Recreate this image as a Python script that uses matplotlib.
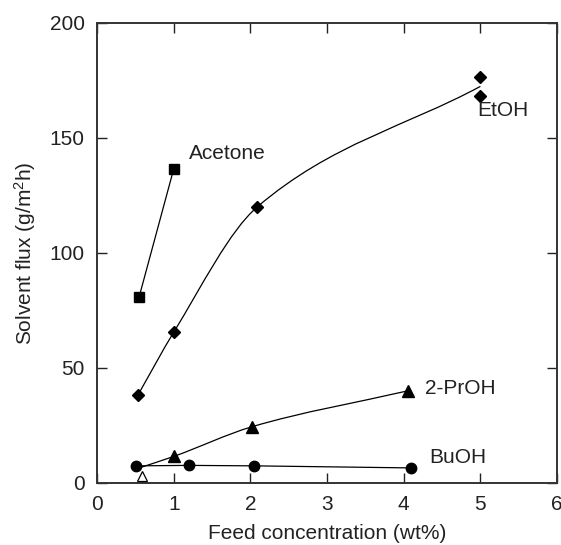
import numpy as np
import matplotlib
matplotlib.use('Agg')
import matplotlib.pyplot as plt
from matplotlib.path import Path
from matplotlib.patches import PathPatch

# values
acetone_x = [0.55, 1.0]
acetone_y = [81, 136.5]

etoh_x = [0.53, 1.0, 2.09, 5.0, 5.0]
etoh_y = [38, 65.5, 120, 176.5, 168.3]

prop_x = [0.55, 1.0, 2.02, 4.05]
prop_y = [6.5, 11.5, 24.4, 40]

buoh_x = [0.51, 1.2, 2.05, 4.1]
buoh_y = [7.4, 7.6, 7.4, 6.5]

open_x = [0.58]
open_y = [3]

labels = ['Acetone', 'EtOH', '2-PrOH', 'BuOH']
label_x = [1.2, 4.96, 4.28, 4.33]
label_y = [143, 162, 41, 11]

plt.rcParams['font.family'] = ['Liberation Sans', 'DejaVu Sans']
plt.rcParams['mathtext.default'] = 'regular'


def smoothPath(xs, ys):
    # monotone bezier through points (pchip style tangents)
    xs = np.asarray(xs, float)
    ys = np.asarray(ys, float)
    h = np.diff(xs)
    sec = np.diff(ys) / h
    m = np.empty(len(xs))
    m[0] = sec[0]
    m[-1] = sec[-1]
    for i in range(1, len(xs) - 1):
        w1 = 2 * h[i] + h[i - 1]
        w2 = h[i] + 2 * h[i - 1]
        m[i] = (w1 + w2) / (w1 / sec[i - 1] + w2 / sec[i])
    verts = [(xs[0], ys[0])]
    codes = [Path.MOVETO]
    for i in range(len(xs) - 1):
        d = h[i] / 3
        verts += [(xs[i] + d, ys[i] + m[i] * d),
                  (xs[i + 1] - d, ys[i + 1] - m[i + 1] * d),
                  (xs[i + 1], ys[i + 1])]
        codes += [Path.CURVE4] * 3
    return Path(verts, codes)


fig = plt.figure(figsize=(5.61, 5.45), dpi=100)
ax = fig.add_axes([0.173, 0.114, 0.82, 0.844])

lw = 0.9
# acetone
ax.plot(acetone_x, acetone_y, color='black', lw=lw, marker='s', ms=6.5, zorder=3)

# ethanol: curve ends at mean of the duplicate points at 5 wt%
etoh_line_x = etoh_x[:3] + [etoh_x[3]]
etoh_line_y = etoh_y[:3] + [(etoh_y[3] + etoh_y[4]) / 2]
ax.add_patch(PathPatch(smoothPath(etoh_line_x, etoh_line_y), fill=False,
                       edgecolor='black', lw=lw, zorder=2))
ax.plot(etoh_x, etoh_y, color='black', ls='', marker='D', ms=6.5, zorder=3)

# 2-propanol
ax.add_patch(PathPatch(smoothPath(prop_x, prop_y), fill=False,
                       edgecolor='black', lw=lw, zorder=2))
ax.plot(prop_x, prop_y, color='black', ls='', marker='^', ms=8,
        markevery=[1, 2, 3], zorder=3)

# butanol
ax.plot(buoh_x, buoh_y, color='black', lw=lw, marker='o', ms=7.5, zorder=4)
ax.plot(open_x, open_y, ls='', marker='^', ms=7, mfc='white', mec='black',
        mew=0.9, zorder=4)

for s, x, y in zip(labels, label_x, label_y):
    ax.text(x, y, s, fontsize=15, va='center', ha='left', color='#222222')

ax.set_xlim(0, 6)
ax.set_ylim(0, 200)
ax.set_xticks(range(0, 7))
ax.set_yticks(range(0, 201, 50))
ax.tick_params(direction='in', length=7, width=1, top=True, right=True,
               labelsize=15, pad=9, colors='#222222')
for sp in ax.spines.values():
    sp.set_linewidth(1.4)
    sp.set_color('#333333')

ax.set_xlabel('Feed concentration (wt%)', fontsize=15, labelpad=7, color='#222222')
ax.set_ylabel('Solvent flux (g/m$^2$h)', fontsize=15, labelpad=8, color='#222222')

fig.savefig('out.png', dpi=100)
